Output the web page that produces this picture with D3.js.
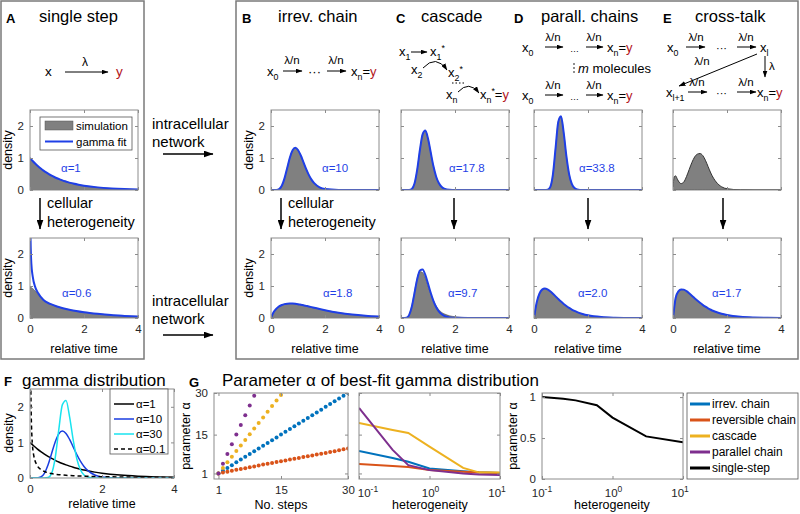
<!DOCTYPE html>
<html><head><meta charset="utf-8">
<script src="https://cdn.jsdelivr.net/npm/d3@7"></script>
<style>body{margin:0;background:#fff} svg{font-family:"Liberation Sans",Arial,sans-serif}</style>
</head><body><svg id="chart" width="800" height="514"></svg>
<script>
// ---------------- DATA ----------------
const tGrid = [0,0.1,0.2,0.3,0.4,0.5,0.6,0.7,0.8,0.9,1.0,1.1,1.2,1.3,1.4,1.5,1.6,1.8,2.0,2.5,3.0,3.5,4.0];
const tNearZero = [0,0.01,0.02,0.05,0.1,0.2,0.3,0.5,0.75,1.0,1.5,2.0,2.5,3.0,3.5,4.0];
const tCross = [0,0.05,0.1,0.15,0.2,0.3,0.4,0.5,0.6,0.7,0.8,0.9,1.0,1.1,1.2,1.3,1.4,1.5,1.6,1.8,2.0,2.5,3.0,4.0];

const singleTopSim = [1,0.905,0.819,0.741,0.670,0.607,0.549,0.497,0.449,0.407,0.368,0.333,0.301,0.273,0.247,0.223,0.202,0.165,0.135,0.082,0.050,0.030,0.018];
const singleTopFit = [1,0.905,0.819,0.741,0.670,0.607,0.549,0.497,0.449,0.407,0.368,0.333,0.301,0.273,0.247,0.223,0.202,0.165,0.135,0.082,0.050,0.030,0.018];
const singleBotSim = [0.97,0.97,0.96,0.95,0.92,0.84,0.74,0.56,0.44,0.36,0.25,0.18,0.13,0.09,0.065,0.045];
const singleBotFit = [4.0,3.3,2.5,1.7,1.3,0.95,0.78,0.56,0.44,0.36,0.25,0.18,0.13,0.09,0.065,0.045];

const chainTop = [0,0,0.002,0.027,0.132,0.363,0.689,1.014,1.241,1.318,1.251,1.085,0.874,0.660,0.473,0.324,0.213,0.083,0.029,0.002,0,0,0];
const chainBot = [0,0.188,0.292,0.362,0.406,0.434,0.449,0.454,0.451,0.443,0.431,0.415,0.398,0.379,0.360,0.340,0.319,0.280,0.244,0.166,0.109,0.071,0.045];
const cascTop = [0,0,0,0.002,0.032,0.20,0.637,1.25,1.74,1.86,1.61,1.18,0.748,0.424,0.217,0.102,0.044,0.007,0.001,0,0,0,0];
const cascBotSim = [0,0,0.01,0.1,0.38,0.82,1.25,1.45,1.42,1.25,1.0,0.76,0.55,0.38,0.26,0.18,0.13,0.07,0.04,0.01,0.003,0,0];
const cascBotFit = [0,0,0.008,0.09,0.35,0.779,1.215,1.484,1.516,1.348,1.078,0.789,0.537,0.345,0.210,0.122,0.068,0.019,0.005,0,0,0,0];
const parTop = [0,0,0,0,0,0.007,0.091,0.484,1.318,2.136,2.305,1.79,1.057,0.497,0.192,0.063,0.018,0.001,0,0,0,0,0];
const parBot = [0,0.487,0.758,0.886,0.920,0.895,0.837,0.760,0.677,0.593,0.513,0.439,0.373,0.315,0.264,0.220,0.183,0.125,0.084,0.030,0.010,0.003,0.001];
const crossTop = [0.1,0.42,0.44,0.36,0.28,0.2,0.25,0.42,0.64,0.86,1.03,1.12,1.14,1.08,0.93,0.73,0.53,0.37,0.25,0.1,0.04,0.005,0,0];
const crossBot = [0,0.633,0.832,0.894,0.887,0.839,0.772,0.696,0.619,0.545,0.475,0.411,0.354,0.303,0.258,0.219,0.186,0.132,0.094,0.038,0.015,0.006,0.002];

const tGamma = [0,0.01,0.02,0.05,0.1,0.2,0.3,0.4,0.5,0.6,0.7,0.8,0.9,1.0,1.1,1.2,1.3,1.4,1.5,1.6,1.8,2.0,2.5,3.0,3.5,4.0];
const gammaA1 = [1,0.99,0.98,0.951,0.905,0.819,0.741,0.670,0.607,0.549,0.497,0.449,0.407,0.368,0.333,0.301,0.273,0.247,0.223,0.202,0.165,0.135,0.082,0.050,0.030,0.018];
const gammaA10 = [0,0,0,0,0,0.002,0.027,0.132,0.363,0.689,1.014,1.241,1.318,1.251,1.085,0.874,0.660,0.473,0.324,0.213,0.083,0.029,0.002,0,0,0];
const gammaA30 = [0,0,0,0,0,0,0,0,0.013,0.131,0.568,1.36,2.06,2.18,1.72,1.07,0.542,0.232,0.085,0.028,0.002,0,0,0,0,0];
const gammaA01 = [6,5.27,2.82,1.24,0.656,0.348,0.239,0.183,0.148,0.124,0.107,0.094,0.084,0.076,0.069,0.063,0.058,0.054,0.050,0.047,0.041,0.037,0.029,0.023,0.019,0.016];
const gammaLegend = ["α=1","α=10","α=30","α=0.1"];

const steps = [1,2,3,4,5,6,7,8,9,10,11,12,13,14,15,16,17,18,19,20,21,22,23,24,25,26,27,28,29,30];
const stepsIrrev = [1,2,3,4,5,6,7,8,9,10,11,12,13,14,15,16,17,18,19,20,21,22,23,24,25,26,27,28,29,30];
const stepsRev = [1,1.3,1.6,2.0,2.3,2.6,2.9,3.2,3.5,3.9,4.2,4.5,4.8,5.1,5.4,5.7,6.0,6.3,6.6,6.9,7.2,7.5,7.8,8.1,8.4,8.7,9.0,9.4,9.7,10.0];
const stepsCasc = [1,3.0,5.0,7.0,9.1,11.1,13.1,15.1,17.2,19.2,21.2,23.2,25.3,27.3,29.3];
const stepsPar = [1,4.5,8,11.5,15,18.5,22,25.5,29];

const hetero = [0.1,0.3,0.5,1,3,5,10];
const hetIrrev = [9.1,6.6,5.2,2.8,1.8,1.4,1.2];
const hetRev = [4.4,3.7,3.3,2.2,1.6,1.3,1.2];
const hetCasc = [19.2,16.7,15.6,10.7,3.0,1.4,1.3];
const hetPar = [24.6,9.5,4.0,2.2,1.0,0.6,0.4];
const heteroSingle = [0.1,0.2,0.3,0.6,1,3,10];
const hetSingle = [1.0,0.98,0.96,0.9,0.75,0.52,0.45];
const seriesNames = ["irrev. chain","reversible chain","cascade","parallel chain","single-step"];
const seriesColors = ["#0072BD","#D95319","#EDB120","#7E2F8E","#000000"];

// ---------------- DRAWING ----------------
const svg = d3.select('#chart');
const defs = svg.append('defs');
const AX = '#8c8c8c', TXT = '#262626', BLUE = '#1f3fe6', GRAY = '#808080', RED = '#b3141b';

function mkMarker(id, w, h){
  defs.append('marker').attr('id',id).attr('viewBox',`0 0 ${w} ${h}`).attr('refX',w-0.5).attr('refY',h/2)
    .attr('markerWidth',w).attr('markerHeight',h).attr('markerUnits','userSpaceOnUse').attr('orient','auto')
    .append('path').attr('d',`M0,0L${w},${h/2}L0,${h}Z`).attr('fill','#000');
}
mkMarker('ah',7,5); mkMarker('ahL',10,7);

function line(x1,y1,x2,y2,m,sw){
  const l = svg.append('line').attr('x1',x1).attr('y1',y1).attr('x2',x2).attr('y2',y2).attr('stroke','#000').attr('stroke-width',sw||1);
  if(m) l.attr('marker-end',`url(#${m})`);
  return l;
}
function text(x,y,s,o){
  o=o||{};
  const t = svg.append('text').attr('x',x).attr('y',y).text(s).attr('font-size',o.size||12).attr('fill',o.fill||'#000');
  if(o.anchor) t.attr('text-anchor',o.anchor);
  if(o.weight) t.attr('font-weight',o.weight);
  if(o.rot) t.attr('transform',`rotate(-90,${x},${y})`);
  return t;
}
function rich(x,y,segs,size){
  size=size||13;
  const t = svg.append('text').attr('x',x).attr('y',y).attr('font-size',size);
  let shift=0;
  segs.forEach(([s,k])=>{
    const target = k==='s'?3.5:(k==='p'?-5:0);
    const ts = t.append('tspan').text(s).attr('dy',target-shift);
    shift=target;
    if(k==='s'||k==='p') ts.attr('font-size',size*0.68);
    if(k==='r') ts.attr('fill',RED);
    if(k==='i') ts.attr('font-style','italic');
  });
  return t;
}

let clipN=0;
function plot(o){
  const g = svg.append('g');
  const xs = (o.xlog?d3.scaleLog():d3.scaleLinear()).domain(o.xd).range([o.x,o.x+o.w]);
  const ys = d3.scaleLinear().domain(o.yd).range([o.y+o.h,o.y]);
  const id='cl'+(clipN++);
  defs.append('clipPath').attr('id',id).append('rect').attr('x',o.x).attr('y',o.y).attr('width',o.w).attr('height',o.h);
  const inner = g.append('g').attr('clip-path',`url(#${id})`);
  const ax=(axis,tx,ty)=>{
    const a=g.append('g').attr('transform',`translate(${tx},${ty})`).call(axis);
    a.select('.domain').remove();
    a.selectAll('line').attr('stroke',AX);
    a.selectAll('text').attr('fill',TXT).attr('font-size',11.5).attr('font-family','"Liberation Sans",Arial,sans-serif');
    return a;
  };
  const fmt = d=>d;
  ax(d3.axisBottom(xs).tickValues(o.xt).tickSize(-3).tickPadding(7).tickFormat(o.xl&&!o.xlog?fmt:''),0,o.y+o.h);
  ax(d3.axisTop(xs).tickValues(o.xt).tickSize(-3).tickFormat(''),0,o.y);
  ax(d3.axisLeft(ys).tickValues(o.yt).tickSize(-3).tickPadding(6).tickFormat(o.yl?fmt:''),o.x,0);
  ax(d3.axisRight(ys).tickValues(o.yt).tickSize(-3).tickFormat(''),o.x+o.w,0);
  if(o.xl&&o.xlog){
    o.xt.forEach((v,i)=>{
      const e=Math.round(Math.log10(v));
      const off = o.xoff?o.xoff[i]:0;
      const t=g.append('text').attr('x',xs(v)+off).attr('y',o.y+o.h+18).attr('text-anchor','middle').attr('font-size',11.5).attr('fill',TXT);
      t.append('tspan').text('10');
      t.append('tspan').text(String(e)).attr('dy',-5).attr('font-size',8.5);
    });
  }
  g.append('rect').attr('x',o.x).attr('y',o.y).attr('width',o.w).attr('height',o.h).attr('fill','none').attr('stroke',AX).attr('stroke-width',1);
  return {g,inner,xs,ys};
}

function densityPlot(x,y,t,sim,fit,o){
  o=o||{};
  const p = plot({x:x,y:y,w:108,h:80,xd:[0,4],yd:[0,2.5],xt:[0,2,4],yt:[0,1,2],xl:o.xl,yl:o.yl});
  const pts = (vals)=>t.map((tt,i)=>[tt,vals[i]]);
  if(sim){
    const area = d3.area().x(d=>p.xs(d[0])).y0(p.ys(0)).y1(d=>p.ys(d[1])).curve(d3.curveMonotoneX);
    p.inner.append('path').attr('d',area(pts(sim))).attr('fill',GRAY).attr('stroke',o.simStroke||'#555').attr('stroke-width',o.simStroke?1:0.6);
  }
  if(fit){
    const ln = d3.line().x(d=>p.xs(d[0])).y(d=>p.ys(d[1])).curve(d3.curveMonotoneX);
    p.inner.append('path').attr('d',ln(pts(fit))).attr('fill','none').attr('stroke',BLUE).attr('stroke-width',2);
  }
  if(o.alpha) text(o.ax,o.ay,o.alpha,{size:11.5,fill:BLUE});
  if(o.yl) text(x-18,y+40,'density',{size:12.5,anchor:'middle',rot:true});
  if(o.xl) text(x+54,y+115,'relative time',{size:12.5,anchor:'middle'});
  return p;
}

// frames
svg.append('rect').attr('x',1).attr('y',1).attr('width',143).attr('height',358).attr('fill','none').attr('stroke','#7a7a7a').attr('stroke-width',1.5);
svg.append('rect').attr('x',236).attr('y',1).attr('width',562).attr('height',358).attr('fill','none').attr('stroke','#7a7a7a').attr('stroke-width',1.5);

// titles
text(6,23,'A',{size:13,weight:'bold'}); text(39,22,'single step',{size:16.5});
text(242,23,'B',{size:13,weight:'bold'}); text(278,22,'irrev. chain',{size:16.5});
text(396,23,'C',{size:13,weight:'bold'}); text(421,22,'cascade',{size:16.5});
text(514,23,'D',{size:13,weight:'bold'}); text(541,22,'parall. chains',{size:16.5});
text(663,23,'E',{size:13,weight:'bold'}); text(695,22,'cross-talk',{size:16.5});

// A schematic
text(45,76,'x',{size:13.5}); line(65,72,108,72,'ah'); text(82,66,'λ',{size:12}); text(116,76,'y',{size:13.5,fill:RED});
// B schematic
rich(267,76,[['x'],['0','s']]); line(283,71,302,71,'ah'); text(292,64,'λ/n',{size:11.5,anchor:'middle'});
text(308,76,'···',{size:13}); line(327,71,346,71,'ah'); text(336,64,'λ/n',{size:11.5,anchor:'middle'});
rich(351,76,[['x'],['n','s'],['='],['y','r']]);
// C schematic
rich(399,56,[['x'],['1','s']]); line(411,52,427,52,'ah'); rich(430,56,[['x'],['1','s'],['*','p']]);
rich(411,74,[['x'],['2','s']]);
svg.append('path').attr('d','M423,68 Q436,54 447,70').attr('fill','none').attr('stroke','#000').attr('marker-end','url(#ah)');
rich(448,77,[['x'],['2','s'],['*','p']]);
svg.append('line').attr('x1',452).attr('y1',83).attr('x2',464).attr('y2',83).attr('stroke','#000').attr('stroke-dasharray','1.5,2');
rich(446,99,[['x'],['n','s']]);
svg.append('path').attr('d','M458,92 Q469,80 479,93').attr('fill','none').attr('stroke','#000').attr('marker-end','url(#ah)');
rich(480,99,[['x'],['n','s'],['*','p'],['='],['y','r']]);
// D schematic
rich(522,52,[['x'],['0','s']]); line(545,47,563,47,'ah'); text(553,41,'λ/n',{size:11.5,anchor:'middle'});
text(570,52,'…',{size:9}); line(586,47,603,47,'ah'); text(594,41,'λ/n',{size:11.5,anchor:'middle'});
rich(607,52,[['x'],['n','s'],['='],['y','r']]);
[64,68,72].forEach(yy=>svg.append('circle').attr('cx',574).attr('cy',yy).attr('r',0.8).attr('fill','#000'));
rich(578,73,[['m','i'],[' molecules']]);
rich(522,100,[['x'],['0','s']]); line(545,95,563,95,'ah'); text(553,89,'λ/n',{size:11.5,anchor:'middle'});
text(570,100,'…',{size:9}); line(586,95,603,95,'ah'); text(594,89,'λ/n',{size:11.5,anchor:'middle'});
rich(607,100,[['x'],['n','s'],['='],['y','r']]);
// E schematic
rich(667,52,[['x'],['0','s']]); line(686,47,705,47,'ah'); text(696,41,'λ/n',{size:11.5,anchor:'middle'});
text(716,52,'···',{size:11}); line(737,47,756,47,'ah'); text(746,41,'λ/n',{size:11.5,anchor:'middle'});
rich(760,52,[['x'],['l','s']]);
line(757,54,679,86,'ah'); text(702,65,'λ/n',{size:11.5,anchor:'middle'});
line(765,56,765,77,'ah'); text(769,70,'λ',{size:11.5});
rich(666,97,[['x'],['l+1','s']]); line(688,92,707,92,'ah'); text(697,86,'λ/n',{size:11.5,anchor:'middle'});
text(716,97,'···',{size:11}); line(737,92,756,92,'ah'); text(746,86,'λ/n',{size:11.5,anchor:'middle'});
rich(757,97,[['x'],['n','s'],['='],['y','r']]);

// density panels
densityPlot(30,110,tGrid,singleTopSim,singleTopFit,{yl:true,alpha:'α=1',ax:61,ay:172});
svg.append('rect').attr('x',40).attr('y',117).attr('width',92).attr('height',33).attr('fill','#fff').attr('stroke','#555').attr('stroke-width',0.8);
svg.append('rect').attr('x',45).attr('y',121).attr('width',28).attr('height',9).attr('fill',GRAY).attr('stroke','#555').attr('stroke-width',0.5);
text(76,130,'simulation',{size:11.5});
svg.append('line').attr('x1',45).attr('y1',141.5).attr('x2',73).attr('y2',141.5).attr('stroke',BLUE).attr('stroke-width',2);
text(76,145.5,'gamma fit',{size:11.5});

densityPlot(30,238,tNearZero,singleBotSim,singleBotFit,{yl:true,xl:true,alpha:'α=0.6',ax:62,ay:297});
densityPlot(271,110,tGrid,chainTop,chainTop,{yl:true,alpha:'α=10',ax:322,ay:172});
densityPlot(271,238,tGrid,chainBot,chainBot,{yl:true,xl:true,alpha:'α=1.8',ax:323,ay:297});
densityPlot(401,110,tGrid,cascTop,cascTop,{alpha:'α=17.8',ax:449,ay:172});
densityPlot(401,238,tGrid,cascBotSim,cascBotFit,{xl:true,alpha:'α=9.7',ax:448,ay:297});
densityPlot(534,110,tGrid,parTop,parTop,{alpha:'α=33.8',ax:579,ay:172});
densityPlot(534,238,tGrid,parBot,parBot,{xl:true,alpha:'α=2.0',ax:578,ay:297});
densityPlot(673,110,tCross,crossTop,null,{simStroke:'#333'});
densityPlot(673,238,tGrid,crossBot,crossBot,{xl:true,alpha:'α=1.7',ax:712,ay:297});

// network arrows
text(152,129,'intracellular',{size:15}); text(152,147,'network',{size:15}); line(163,154,213,154,'ahL',1.5);
text(152,306,'intracellular',{size:15}); text(152,324,'network',{size:15}); line(163,335,213,335,'ahL',1.5);
// heterogeneity arrows
line(40,198,40,229,'ahL',1.5); text(47,208,'cellular',{size:14.5}); text(47,227,'heterogeneity',{size:14.5});
line(281,198,281,229,'ahL',1.5); text(288,208,'cellular',{size:14.5}); text(288,227,'heterogeneity',{size:14.5});
[454,588,723].forEach(x=>line(x,198,x,229,'ahL',1.5));

// ---------------- F ----------------
text(4,386,'F',{size:13,weight:'bold'}); text(22,386,'gamma distribution',{size:17});
const pF = plot({x:30,y:389,w:144,h:89,xd:[0,4],yd:[0,2.5],xt:[0,2,4],yt:[0,1,2],xl:true,yl:true});
const fLine = d3.line().x(d=>pF.xs(d[0])).y(d=>pF.ys(d[1])).curve(d3.curveMonotoneX);
const fSeries = [[gammaA1,'#000',null],[gammaA10,'#1a3ce0',null],[gammaA30,'#19e3ef',null],[gammaA01,'#000','4,3']];
fSeries.forEach(([vals,c,dash])=>{
  const pth = pF.inner.append('path').attr('d',fLine(tGamma.map((t,i)=>[t,vals[i]]))).attr('fill','none').attr('stroke',c).attr('stroke-width',1.5);
  if(dash) pth.attr('stroke-dasharray',dash);
});
svg.append('rect').attr('x',110).attr('y',389).attr('width',58).attr('height',65).attr('fill','#fff').attr('stroke','#555').attr('stroke-width',0.8);
gammaLegend.forEach((s,i)=>{
  const yy = 404+i*15;
  const l = svg.append('line').attr('x1',114).attr('x2',134).attr('y1',yy).attr('y2',yy).attr('stroke',fSeries[i][1]).attr('stroke-width',1.5);
  if(fSeries[i][2]) l.attr('stroke-dasharray',fSeries[i][2]);
  text(136,yy+4,s,{size:11.5});
});
text(13,433,'density',{size:12.5,anchor:'middle',rot:true});
text(102,508,'relative time',{size:12.5,anchor:'middle'});

// ---------------- G ----------------
text(189,387,'G',{size:13,weight:'bold'}); text(222,386,'Parameter α of best-fit gamma distribution',{size:17});
const pG1 = plot({x:214,y:393,w:134,h:86,xd:[0,30],yd:[-1,30],xt:[1,15,30],yt:[1,15,30],xl:true,yl:true});
[[stepsIrrev,0],[stepsRev,1],[stepsCasc,2],[stepsPar,3]].forEach(([vals,ci])=>{
  pG1.inner.selectAll(null).data(vals).enter().append('circle')
    .attr('cx',(d,i)=>pG1.xs(steps[i])).attr('cy',d=>pG1.ys(d)).attr('r',2).attr('fill',seriesColors[ci]);
});
text(190,436,'parameter α',{size:12.5,anchor:'middle',rot:true});
text(281,509,'No. steps',{size:12.5,anchor:'middle'});

const pG2 = plot({x:359,y:393,w:141,h:86,xlog:true,xd:[0.1,10],yd:[-1,30],xt:[0.1,1,10],yt:[1,15,30],xl:true,yl:false,xoff:[9,1,-3]});
const g2line = d3.line().x(d=>pG2.xs(d[0])).y(d=>pG2.ys(d[1]));
[[hetIrrev,0],[hetRev,1],[hetCasc,2],[hetPar,3]].forEach(([vals,ci])=>{
  pG2.inner.append('path').attr('d',g2line(hetero.map((h,i)=>[h,vals[i]]))).attr('fill','none').attr('stroke',seriesColors[ci]).attr('stroke-width',2);
});
text(430,509,'heterogeneity',{size:12.5,anchor:'middle'});

const pG3 = plot({x:542,y:393,w:141,h:86,xlog:true,xd:[0.1,10],yd:[0,1.05],xt:[0.1,1,10],yt:[0,0.5,1],xl:true,yl:true,xoff:[0,1,-3]});
const g3line = d3.line().x(d=>pG3.xs(d[0])).y(d=>pG3.ys(d[1]));
pG3.inner.append('path').attr('d',g3line(heteroSingle.map((h,i)=>[h,hetSingle[i]]))).attr('fill','none').attr('stroke','#000').attr('stroke-width',2);
text(517,436,'parameter α',{size:12.5,anchor:'middle',rot:true});
text(612,509,'heterogeneity',{size:12.5,anchor:'middle'});

svg.append('rect').attr('x',687).attr('y',393).attr('width',111).attr('height',86).attr('fill','#fff').attr('stroke','#555').attr('stroke-width',0.8);
seriesNames.forEach((s,i)=>{
  const yy=404+i*16;
  svg.append('line').attr('x1',690).attr('x2',710).attr('y1',yy).attr('y2',yy).attr('stroke',seriesColors[i]).attr('stroke-width',3);
  text(712,yy+4,s,{size:12});
});
</script></body></html>
